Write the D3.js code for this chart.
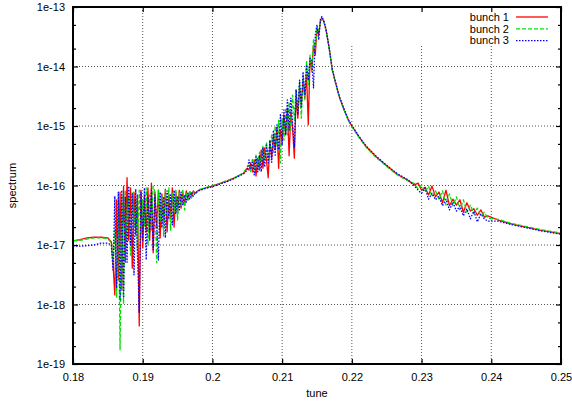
<!DOCTYPE html>
<html>
<head>
<meta charset="utf-8">
<script src="https://cdn.jsdelivr.net/npm/d3@7"></script>
<style>
  html, body { margin: 0; padding: 0; background: #fff; }
  svg { display: block; font-family: "Liberation Sans", Arial, Helvetica, sans-serif; }
</style>
</head>
<body>
<svg id="chart" width="572" height="407"></svg>
<script>
// Tune values shared by the three bunch spectra
const tune = [
  0.1800, 0.1810, 0.1820, 0.1830, 0.1840, 0.1850, 0.1855,
  0.18575, 0.18600, 0.18625, 0.18650, 0.18675, 0.18700, 0.18725, 0.18750,
  0.18775, 0.18800, 0.18825, 0.18850, 0.18875, 0.18900, 0.18925, 0.18950,
  0.18975, 0.19000, 0.19025, 0.19050, 0.19075, 0.19100, 0.19125, 0.19150,
  0.19175, 0.19200, 0.19225, 0.19250, 0.19275, 0.19300, 0.19325, 0.19350,
  0.19375, 0.19400, 0.19425, 0.19450, 0.19475, 0.19500, 0.19525, 0.19550,
  0.19575, 0.19600, 0.19625, 0.19650, 0.19675, 0.19700, 0.19725, 0.19750,
  0.1980, 0.1990, 0.2000, 0.2010, 0.2020, 0.2030, 0.2040, 0.2045,
  0.20500, 0.20525, 0.20550, 0.20575, 0.20600, 0.20625, 0.20650, 0.20675,
  0.20700, 0.20725, 0.20750, 0.20775, 0.20800, 0.20825, 0.20850, 0.20875,
  0.20900, 0.20925, 0.20950, 0.20975, 0.21000, 0.21025, 0.21050, 0.21075,
  0.21100, 0.21125, 0.21150, 0.21175, 0.21200, 0.21225, 0.21250, 0.21275,
  0.21300, 0.21325, 0.21350, 0.21375, 0.21400, 0.21425, 0.21450, 0.21475,
  0.21500, 0.21525, 0.21550,
  0.2157, 0.2160, 0.2163, 0.2167, 0.2172, 0.2177, 0.2182, 0.2188,
  0.2195, 0.2200, 0.2210, 0.2220, 0.2235, 0.2250, 0.2265, 0.2280,
  0.2290, 0.2295, 0.2300, 0.2305, 0.2310, 0.2315, 0.2320, 0.2325,
  0.2330, 0.2335, 0.2340, 0.2345, 0.2350, 0.2355, 0.2360, 0.2365,
  0.2370, 0.2375, 0.2380, 0.2385, 0.2390, 0.2395,
  0.2410, 0.2430, 0.2450, 0.2470, 0.2485, 0.2500
];

// log10 of the spectrum, bunch 1
const bunch1 = [
  -16.93, -16.91, -16.88, -16.87, -16.87, -16.88, -16.95,
  -17.34, -17.84, -16.24, -17.59, -16.11, -17.76, -16.01, -17.29,
  -15.87, -16.92, -16.04, -17.39, -16.11, -16.83, -16.16, -18.36,
  -16.08, -17.05, -16.18, -16.78, -16.04, -16.92, -15.96, -17.13,
  -16.11, -16.71, -16.08, -16.88, -16.14, -16.66, -16.06, -16.78,
  -16.16, -16.55, -16.04, -16.70, -16.11, -16.45, -16.08, -16.38,
  -16.13, -16.33, -16.09, -16.24, -16.11, -16.18, -16.09, -16.13,
  -16.08, -16.04, -16.01, -15.97, -15.93, -15.88, -15.82, -15.79,
  -15.71, -15.74, -15.62, -15.77, -15.57, -15.84, -15.54, -15.74,
  -15.40, -15.71, -15.37, -15.57, -15.87, -15.24, -15.54, -15.15,
  -15.40, -15.03, -15.71, -15.07, -15.24, -14.81, -15.15, -14.70,
  -15.50, -14.76, -15.03, -15.54, -14.48, -14.87, -14.36, -14.65,
  -14.23, -14.53, -14.14, -14.98, -13.86, -14.06, -13.64, -13.81,
  -13.35, -13.47, -13.22,
  -13.18, -13.25, -13.39, -13.66, -14.06, -14.29, -14.51, -14.70,
  -14.90, -15.00, -15.18, -15.34, -15.52, -15.67, -15.81, -15.91,
  -15.99, -15.96, -16.08, -16.03, -16.16, -16.01, -16.19, -16.11,
  -16.29, -16.08, -16.34, -16.23, -16.33, -16.24, -16.45, -16.29,
  -16.43, -16.39, -16.50, -16.41, -16.53, -16.51,
  -16.58, -16.65, -16.70, -16.75, -16.78, -16.81
];

// log10 of the spectrum, bunch 2
const bunch2 = [
  -16.93, -16.92, -16.90, -16.88, -16.88, -16.89, -16.97,
  -17.29, -16.75, -17.89, -16.24, -18.76, -16.16, -17.99, -16.08,
  -16.92, -16.18, -17.17, -16.11, -16.71, -16.21, -17.08, -16.08,
  -16.88, -16.24, -16.68, -16.04, -17.00, -16.16, -16.75, -16.01,
  -16.11, -17.30, -16.08, -16.61, -16.18, -16.85, -16.08, -16.50,
  -16.04, -16.75, -16.13, -16.45, -16.08, -16.58, -16.11, -16.34,
  -16.06, -16.41, -16.13, -16.24, -16.08, -16.21, -16.11, -16.16,
  -16.07, -16.04, -16.00, -15.97, -15.92, -15.88, -15.82, -15.78,
  -15.69, -15.66, -15.77, -15.54, -15.74, -15.49, -15.71, -15.44,
  -15.66, -15.34, -15.57, -15.27, -15.54, -15.40, -15.15, -15.44,
  -15.00, -15.32, -14.90, -15.62, -14.87, -15.24, -14.70, -15.15,
  -14.60, -15.07, -14.48, -14.90, -14.39, -14.76, -14.26, -14.87,
  -14.16, -14.56, -13.92, -14.31, -13.81, -14.09, -13.55, -13.72,
  -13.35, -13.39, -13.25,
  -13.20, -13.26, -13.40, -13.67, -14.07, -14.30, -14.52, -14.71,
  -14.91, -15.01, -15.19, -15.35, -15.53, -15.68, -15.82, -15.92,
  -15.97, -16.06, -15.99, -16.11, -16.01, -16.19, -16.09, -16.23,
  -16.09, -16.33, -16.14, -16.34, -16.19, -16.41, -16.24, -16.45,
  -16.33, -16.48, -16.38, -16.51, -16.45, -16.55,
  -16.57, -16.64, -16.69, -16.74, -16.77, -16.80
];

// log10 of the spectrum, bunch 3
const bunch3 = [
  -17.02, -17.02, -17.01, -17.00, -16.97, -16.97, -17.00,
  -17.42, -16.18, -17.72, -16.11, -17.92, -16.08, -17.89, -16.19,
  -17.29, -16.01, -17.00, -16.14, -17.50, -16.06, -17.18, -18.13,
  -16.11, -16.92, -16.04, -17.25, -16.19, -16.78, -16.08, -17.08,
  -16.16, -16.65, -17.25, -16.11, -16.71, -16.19, -16.88, -16.09,
  -16.55, -16.16, -16.66, -16.08, -16.48, -16.18, -16.41, -16.11,
  -16.33, -16.16, -16.28, -16.13, -16.23, -16.11, -16.18, -16.13,
  -16.09, -16.05, -16.02, -15.98, -15.94, -15.89, -15.83, -15.80,
  -15.74, -15.57, -15.71, -15.61, -15.82, -15.52, -15.77, -15.49,
  -15.77, -15.37, -15.69, -15.32, -15.62, -15.24, -15.61, -15.07,
  -15.49, -14.98, -15.40, -14.81, -15.32, -14.73, -15.15, -14.56,
  -15.07, -14.53, -14.98, -15.35, -14.39, -14.81, -14.23, -14.70,
  -14.09, -14.48, -13.97, -14.23, -13.86, -13.89, -14.36, -13.47,
  -13.30, -13.55, -13.20,
  -13.16, -13.24, -13.38, -13.65, -14.05, -14.28, -14.50, -14.69,
  -14.89, -14.99, -15.17, -15.33, -15.51, -15.66, -15.80, -15.90,
  -16.01, -16.08, -16.13, -16.04, -16.23, -16.13, -16.24, -16.18,
  -16.34, -16.23, -16.41, -16.28, -16.43, -16.34, -16.51, -16.39,
  -16.56, -16.43, -16.61, -16.48, -16.56, -16.60,
  -16.60, -16.66, -16.71, -16.76, -16.79, -16.82
];

const seriesNames = ["bunch 1", "bunch 2", "bunch 3"];
const xTicks = [0.18, 0.19, 0.20, 0.21, 0.22, 0.23, 0.24, 0.25];
const yTickExponents = [-19, -18, -17, -16, -15, -14, -13];
const yMinorMantissas = [2, 5];

const W = 572, H = 407;
const plot = { left: 73, right: 561, top: 7, bottom: 364 };

const svg = d3.select("#chart");

const x = d3.scaleLinear().domain([0.18, 0.25]).range([plot.left, plot.right]);
const y = d3.scaleLog().domain([1e-19, 1e-13]).range([plot.bottom, plot.top]);

const yMajor = yTickExponents.map(e => Math.pow(10, e));
const yMinor = [];
yTickExponents.slice(0, -1).forEach(e => yMinorMantissas.forEach(m => yMinor.push(m * Math.pow(10, e))));

// grid
const grid = svg.append("g").attr("stroke", "#555").attr("stroke-width", 1)
  .attr("stroke-dasharray", "1,2").attr("fill", "none");
xTicks.slice(1, -1).forEach(t => {
  grid.append("line").attr("x1", x(t)).attr("x2", x(t))
    .attr("y1", plot.top).attr("y2", plot.bottom);
});
yMajor.slice(1, -1).forEach(v => {
  grid.append("line").attr("x1", plot.left).attr("x2", plot.right)
    .attr("y1", y(v)).attr("y2", y(v));
});

// key area is opaque over the grid
svg.append("rect").attr("x", 345).attr("y", plot.top + 1)
  .attr("width", plot.right - 345 - 1).attr("height", 37).attr("fill", "#fff");

// data
svg.append("clipPath").attr("id", "clip").append("rect")
  .attr("x", plot.left).attr("y", plot.top)
  .attr("width", plot.right - plot.left).attr("height", plot.bottom - plot.top);

const styles = [
  { color: "#ff0000", dash: null },
  { color: "#00e000", dash: "4,2" },
  { color: "#0000ff", dash: "1.5,1.5" }
];
const seriesData = [bunch1, bunch2, bunch3];

const line = d3.line()
  .defined(d => d[1] !== undefined)
  .x(d => x(d[0]))
  .y(d => y(Math.pow(10, d[1])));

const dataG = svg.append("g").attr("clip-path", "url(#clip)");
seriesData.forEach((vals, i) => {
  const pts = tune.map((t, j) => [t, vals[j]]);
  dataG.append("path").datum(pts)
    .attr("d", line)
    .attr("fill", "none")
    .attr("stroke", styles[i].color)
    .attr("stroke-width", 1.3)
    .attr("stroke-linejoin", "round")
    .attr("stroke-dasharray", styles[i].dash);
});

// axes
const fmtX = d => String(+d.toFixed(2));
const fmtY = d => "1e" + Math.round(Math.log10(d));

function styleAxis(g) {
  g.select(".domain").remove();
  g.selectAll(".tick line").attr("stroke", "#000").attr("stroke-width", 1.2);
  g.selectAll(".tick text").attr("fill", "#000").style("font-size", "11px")
    .style("font-family", '"Liberation Sans", Arial, Helvetica, sans-serif');
}

svg.append("g").attr("transform", `translate(0,${plot.bottom})`)
  .call(d3.axisBottom(x).tickValues(xTicks).tickFormat(fmtX).tickSize(-5).tickPadding(9))
  .call(styleAxis);
svg.append("g").attr("transform", `translate(0,${plot.top})`)
  .call(d3.axisTop(x).tickValues(xTicks).tickFormat("").tickSize(-5))
  .call(styleAxis);
svg.append("g").attr("transform", `translate(${plot.left},0)`)
  .call(d3.axisLeft(y).tickValues(yMajor).tickFormat(fmtY).tickSize(-5).tickPadding(8))
  .call(styleAxis);
svg.append("g").attr("transform", `translate(${plot.left},0)`)
  .call(d3.axisLeft(y).tickValues(yMinor).tickFormat("").tickSize(-3))
  .call(styleAxis);
svg.append("g").attr("transform", `translate(${plot.right},0)`)
  .call(d3.axisRight(y).tickValues(yMajor).tickFormat("").tickSize(-5))
  .call(styleAxis);
svg.append("g").attr("transform", `translate(${plot.right},0)`)
  .call(d3.axisRight(y).tickValues(yMinor).tickFormat("").tickSize(-3))
  .call(styleAxis);

// frame
svg.append("rect").attr("x", plot.left).attr("y", plot.top)
  .attr("width", plot.right - plot.left).attr("height", plot.bottom - plot.top)
  .attr("fill", "none").attr("stroke", "#000").attr("stroke-width", 2);

// axis titles
svg.append("text").attr("x", (plot.left + plot.right) / 2).attr("y", 397)
  .attr("text-anchor", "middle").style("font-size", "11px").text("tune");
svg.append("text").attr("transform", `translate(16,${(plot.top + plot.bottom) / 2}) rotate(-90)`)
  .attr("text-anchor", "middle").style("font-size", "11px").text("spectrum");

// key
const key = svg.append("g");
seriesNames.forEach((name, i) => {
  const ky = 17 + i * 11.8;
  key.append("text").attr("x", 509).attr("y", ky).attr("dy", "0.35em")
    .attr("text-anchor", "end").style("font-size", "11px").text(name);
  key.append("line").attr("x1", 516).attr("x2", 548).attr("y1", ky).attr("y2", ky)
    .attr("stroke", styles[i].color).attr("stroke-width", 1.3)
    .attr("stroke-dasharray", styles[i].dash);
});
</script>
</body>
</html>
